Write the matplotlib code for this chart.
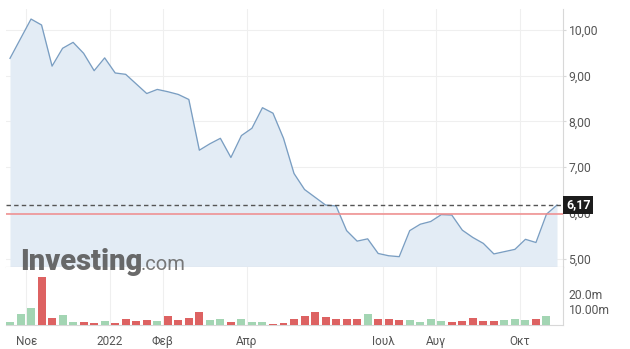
import matplotlib
matplotlib.use("Agg")
import matplotlib.pyplot as plt
import numpy as np

# ---------------- data ----------------
price = [9.38, 9.81, 10.24, 10.11, 9.21, 9.60, 9.73, 9.49, 9.11, 9.39,
         9.06, 9.03, 8.82, 8.61, 8.70, 8.65, 8.59, 8.48, 7.37, 7.51,
         7.63, 7.21, 7.69, 7.85, 8.30, 8.18, 7.63, 6.86, 6.51, 6.34,
         6.17, 6.15, 5.61, 5.38, 5.43, 5.11, 5.06, 5.04, 5.61, 5.75,
         5.81, 5.96, 5.95, 5.62, 5.46, 5.33, 5.10, 5.15, 5.20, 5.42,
         5.35, 5.97, 6.17]
volume_m = [1.7, 6.9, 10.8, 30.8, 4.3, 6.3, 1.7, 1.7, 1.1, 2.6,
            1.1, 3.7, 2.4, 3.0, 2.4, 5.8, 3.0, 4.3, 8.1, 3.4,
            4.0, 1.7, 4.1, 1.7, 1.7, 0.8, 1.3, 3.7, 5.6, 8.1,
            5.0, 4.1, 4.1, 4.1, 6.9, 4.1, 3.9, 3.0, 3.0, 1.7,
            3.7, 2.6, 1.7, 2.6, 4.3, 2.6, 2.6, 3.0, 3.7, 3.0,
            3.9, 5.8]
month_pos = [1.55, 9.5, 14.5, 22.5, 35.5, 40.45, 48.45]
month_labels = ["Νοε", "2022", "Φεβ", "Απρ", "Ιουλ", "Αυγ", "Οκτ"]
price_ticks = [5, 6, 7, 8, 9, 10]
price_tick_labels = ["5,00", "6,00", "7,00", "8,00", "9,00", "10,00"]
vol_ticks = [10, 20]
vol_tick_labels = ["10.00m", "20.0m"]
last_price = 6.17
last_label = "6,17"
ref_level = 5.97

# ---------------- style ----------------
W, H = 630, 349
plt.rcParams['font.family'] = ['Roboto', 'DejaVu Sans']
LINE = '#7a9ec2'
FILL = '#e3ecf5'
GRID = '#efefef'
AXC = '#d8d8d8'
TXT = '#555555'
UP = '#a3d5b3'
DOWN = '#dd6262'

fig = plt.figure(figsize=(W / 100, H / 100), dpi=100)

def px_rect(x0, y0, x1, y1):
    return [x0 / W, 1 - y1 / H, (x1 - x0) / W, (y1 - y0) / H]

x_price = np.arange(len(price))
x_vol = np.arange(len(volume_m))
xlim = (-0.38, 52.57)
pmin, pmax = 4.814, 10.46

ax = fig.add_axes(px_rect(6, 9, 563, 267))
ax.set_xlim(*xlim)
ax.set_ylim(pmin, pmax)
ax.fill_between(x_price, price, pmin, color=FILL, lw=0, zorder=1)
ax.plot(x_price, price, color=LINE, lw=0.95, zorder=3)
ax.axhline(ref_level, color='#ef8a8a', lw=1.1, zorder=4)
ax.axhline(last_price, color='#555555', lw=1.0, dashes=(3.2, 2.3), zorder=5)

for s in ['left', 'top']:
    ax.spines[s].set_visible(False)
ax.spines['right'].set_color(AXC)
ax.spines['bottom'].set_color('#c4c4c4')
ax.yaxis.tick_right()
ax.set_yticks(price_ticks)
ax.set_yticklabels(price_tick_labels)
ax.set_xticks(month_pos)
ax.tick_params(axis='x', length=0, labelbottom=False)
ax.tick_params(axis='y', length=2.2, color=AXC, pad=1.8, labelsize=8.7, labelcolor=TXT)
ax.grid(True, color=GRID, lw=0.8, zorder=0)
ax.set_axisbelow(True)

ax.annotate(last_label, xy=(1.0, last_price), xycoords=('axes fraction', 'data'),
            xytext=(2.2, 0), textcoords='offset points', ha='left', va='center',
            color='white', fontsize=8.9, fontweight='bold', zorder=10,
            bbox=dict(boxstyle='square,pad=0.22', fc='#1c1c1c', ec='none'),
            annotation_clip=False)

# watermark
fig.text(20 / W, 1 - 270 / H, "Investing", fontsize=21, fontweight=900,
         color='#5a5a5a', alpha=0.9, ha='left', va='baseline', zorder=20)
fig.text(140.5 / W, 1 - 270 / H, ".com", fontsize=14.5, color='#6a6a6a',
         alpha=0.9, ha='left', va='baseline', zorder=20)

# volume
vax = fig.add_axes(px_rect(6, 267, 563, 325))
vax.set_xlim(*xlim)
vax.set_ylim(0, 37.4)
colors = [UP] + [UP if price[i] >= price[i - 1] else DOWN for i in range(1, len(volume_m))]
vax.bar(x_vol, volume_m, width=0.76, color=colors, lw=0, zorder=3)
for s in ['left', 'top']:
    vax.spines[s].set_visible(False)
vax.spines['right'].set_color(AXC)
vax.spines['bottom'].set_color(AXC)
vax.yaxis.tick_right()
vax.set_yticks(vol_ticks)
vax.set_yticklabels(vol_tick_labels)
vax.set_xticks(month_pos)
vax.set_xticklabels(month_labels)
vax.tick_params(axis='x', length=0, pad=7, labelsize=8.5, labelcolor=TXT)
vax.tick_params(axis='y', length=0, pad=4, labelsize=8.7, labelcolor=TXT)
vax.grid(True, axis='x', color=GRID, lw=0.8, zorder=0)
vax.set_axisbelow(True)

fig.savefig("out.png", dpi=100)
